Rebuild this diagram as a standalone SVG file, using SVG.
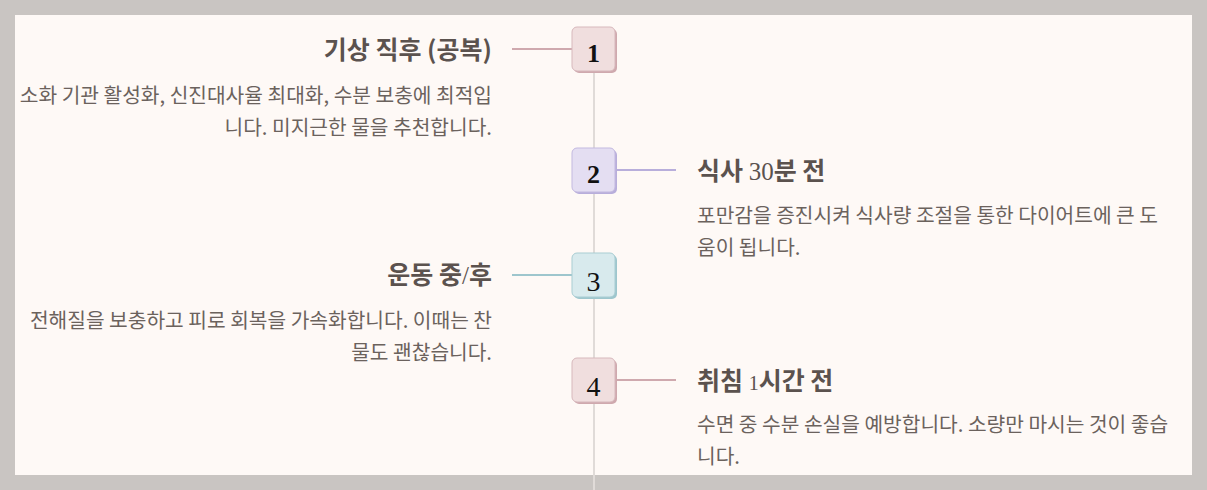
<svg xmlns="http://www.w3.org/2000/svg" width="1207" height="490" viewBox="0 0 1207 490">
<style>
.title{font-family:"Noto Sans CJK KR","Noto Sans",sans-serif;font-weight:700;font-size:25px;fill:#5b524e}
.num{font-family:"Liberation Serif",serif;font-weight:400}
.desc{font-family:"Noto Sans CJK KR","Noto Sans",sans-serif;font-size:20.3px;fill:#6b625d}
.bnum{font-family:"Liberation Serif",serif;fill:#111;text-anchor:middle}
.conn{stroke-width:2;fill:none}
</style>
<rect x="0" y="0" width="1207" height="490" fill="#c9c5c2"/>
<rect x="15" y="15" width="1177" height="460" fill="#fef9f6"/>
<g id="connectors">
<line x1="594" y1="40" x2="594" y2="490" stroke="#e0dbd8" stroke-width="2"/>
<line class="conn" x1="512" y1="49" x2="572" y2="49" stroke="#cfa9ae"/>
<line class="conn" x1="615" y1="170" x2="676" y2="170" stroke="#b8aedb"/>
<line class="conn" x1="512" y1="275" x2="572" y2="275" stroke="#9ec6cd"/>
<line class="conn" x1="615" y1="380" x2="676" y2="380" stroke="#cfa9ae"/>
</g>
<g id="node1">
<rect x="574" y="29" width="43" height="44" rx="5" fill="#cfa9ae"/>
<rect x="572" y="27" width="43" height="44" rx="5" fill="#f0dede" stroke="#d7b8bc" stroke-width="1"/>
<text class="bnum" x="593.5" y="62" font-size="26" font-weight="700">1</text>
<text class="title" x="492" y="59" text-anchor="end">기상 직후 (공복)</text>
<text class="desc" x="492" y="103" text-anchor="end">소화 기관 활성화, 신진대사율 최대화, 수분 보충에 최적입</text>
<text class="desc" x="492" y="135" text-anchor="end">니다. 미지근한 물을 추천합니다.</text>
</g>
<g id="node2">
<rect x="574" y="150" width="43" height="44" rx="5" fill="#b8aedb"/>
<rect x="572" y="148" width="43" height="44" rx="5" fill="#e4def2" stroke="#c3b9e0" stroke-width="1"/>
<text class="bnum" x="593.5" y="183" font-size="26" font-weight="700">2</text>
<text class="title" x="697" y="180">식사 <tspan class="num">30</tspan>분 전</text>
<text class="desc" x="697" y="223">포만감을 증진시켜 식사량 조절을 통한 다이어트에 큰 도</text>
<text class="desc" x="697" y="255">움이 됩니다.</text>
</g>
<g id="node3">
<rect x="574" y="255" width="43" height="44" rx="5" fill="#9ec6cd"/>
<rect x="572" y="253" width="43" height="44" rx="5" fill="#d8eaed" stroke="#a9cdd3" stroke-width="1"/>
<text class="bnum" x="593.5" y="291" font-size="28">3</text>
<text class="title" x="492" y="284" text-anchor="end">운동 중<tspan class="num">/</tspan>후</text>
<text class="desc" x="492" y="328" text-anchor="end">전해질을 보충하고 피로 회복을 가속화합니다. 이때는 찬</text>
<text class="desc" x="492" y="360" text-anchor="end">물도 괜찮습니다.</text>
</g>
<g id="node4">
<rect x="574" y="360" width="43" height="44" rx="5" fill="#cfa9ae"/>
<rect x="572" y="358" width="43" height="44" rx="5" fill="#f0dede" stroke="#d7b8bc" stroke-width="1"/>
<text class="bnum" x="593.5" y="396" font-size="28">4</text>
<text class="title" x="697" y="390">취침 <tspan class="num" font-size="20">1</tspan>시간 전</text>
<text class="desc" x="697" y="432">수면 중 수분 손실을 예방합니다. 소량만 마시는 것이 좋습</text>
<text class="desc" x="697" y="464">니다.</text>
</g>
</svg>
